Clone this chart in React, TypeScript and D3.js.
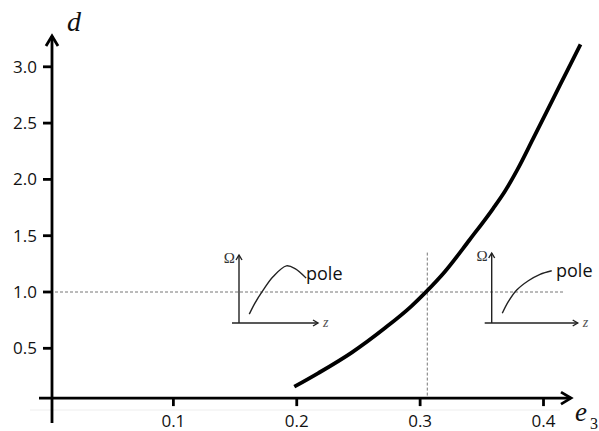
import React from 'react';
import * as d3 from 'd3';

// main curve
const curveE3 = [0.198, 0.2175, 0.2445, 0.2715, 0.293, 0.305, 0.320, 0.340, 0.359, 0.369, 0.3785, 0.3915, 0.408, 0.419, 0.430];
const curveD = [0.159, 0.280, 0.462, 0.680, 0.875, 1.003, 1.180, 1.462, 1.739, 1.899, 2.080, 2.360, 2.720, 2.960, 3.200];

const e3Ticks = [0.1, 0.2, 0.3, 0.4];
const dTicks = [0.5, 1.0, 1.5, 2.0, 2.5, 3.0];
const tickFmt = d3.format('.1f');

// marker lines
const refD = 1.0;
const refE3 = 0.305;
const refTop = 1.35;

// schematic insets, local 0..1 units
const leftInsetU = [0.13, 0.20, 0.31, 0.43, 0.60, 0.71, 0.85];
const leftInsetV = [0.13, 0.29, 0.49, 0.68, 0.84, 0.80, 0.66];
const rightInsetU = [0.123, 0.193, 0.291, 0.426, 0.562, 0.698];
const rightInsetV = [0.139, 0.304, 0.471, 0.604, 0.696, 0.747];

const W = 599;
const H = 431;

const x = d3.scaleLinear().domain([0, 0.4]).range([50, 543.5]);
const y = d3.scaleLinear().domain([0, 3]).range([404.6, 66.8]);
const axisY = y(0) - 6.5;

const sans = '"Open Sans", "Noto Sans", sans-serif';
const serif = '"Liberation Serif", "DejaVu Serif", serif';

const Inset = (props: { x0: number; y0: number; w: number; h: number; u: number[]; v: number[]; label: [number, number] }) => {
    const { x0, y0, w, h, u, v } = props;
    const sx = d3.scaleLinear().domain([0, 1]).range([x0, x0 + w]);
    const sy = d3.scaleLinear().domain([0, 1]).range([y0, y0 - h]);
    const pts = u.map((d, i) => [sx(d), sy(v[i])] as [number, number]);
    const line = d3.line().curve(d3.curveCatmullRom)(pts) || '';
    const c = '#222';
    return (
        <g>
            <line x1={x0} y1={y0} x2={x0} y2={y0 - h} stroke={c} strokeWidth={1.4} />
            <path d={`M${x0 - 3},${y0 - h + 5}L${x0},${y0 - h}L${x0 + 3},${y0 - h + 5}`} fill="none" stroke={c} strokeWidth={1.4} />
            <line x1={x0 - 7} y1={y0} x2={x0 + w} y2={y0} stroke={c} strokeWidth={1.4} />
            <path d={`M${x0 + w - 5},${y0 - 3}L${x0 + w},${y0}L${x0 + w - 5},${y0 + 3}`} fill="none" stroke={c} strokeWidth={1.4} />
            <path d={line} fill="none" stroke={c} strokeWidth={1.4} />
            <text x={x0 - 4} y={y0 - h + 8} textAnchor="end" fontFamily={serif} fontSize={15} fill="#333">Ω</text>
            <text x={x0 + w + 5} y={y0 + 4} fontFamily={serif} fontStyle="italic" fontSize={14} fill="#555">z</text>
            <text x={props.label[0]} y={props.label[1]} fontFamily={sans} fontSize={18} fill="#111">pole</text>
        </g>
    );
};

export default function App() {
    const pts = curveE3.map((e, i) => [x(e), y(curveD[i])] as [number, number]);
    const path = d3.line().curve(d3.curveMonotoneX)(pts) || '';
    const x0 = x(0);

    return (
        <svg width={W} height={H} style={{ position: 'absolute', left: 0, top: 0, background: '#fff' }}>
            {/* faint scan line under the axis */}
            <line x1={30} x2={560} y1={410} y2={410} stroke="#eee" strokeWidth={1} />

            {/* reference lines */}
            <line x1={x0} x2={565} y1={y(refD)} y2={y(refD)} stroke="#777" strokeWidth={1} strokeDasharray="3,2" />
            <line x1={x(refE3) + 1} x2={x(refE3) + 1} y1={y(refTop)} y2={axisY} stroke="#777" strokeWidth={1} strokeDasharray="3,2" />

            {/* y axis */}
            <line x1={x0 + 2} x2={x0 + 2} y1={423} y2={36} stroke="#000" strokeWidth={2.8} />
            <path d={`M${x0 - 4},${46}L${x0 + 2},${36}L${x0 + 8},${46}`} fill="none" stroke="#000" strokeWidth={2.8} />
            {dTicks.map(t => (
                <g key={t}>
                    <line x1={x0 - 7} x2={x0 + 2} y1={y(t)} y2={y(t)} stroke="#000" strokeWidth={2.8} />
                    <text x={37} y={y(t) + 6} textAnchor="end" fontFamily={sans} fontSize={17} fill="#111">{tickFmt(t)}</text>
                </g>
            ))}

            {/* x axis */}
            <line x1={39} x2={571} y1={axisY} y2={axisY} stroke="#000" strokeWidth={2.8} />
            <path d={`M${561},${axisY - 6}L${571},${axisY}L${561},${axisY + 6}`} fill="none" stroke="#000" strokeWidth={2.8} />
            {e3Ticks.map(t => (
                <g key={t}>
                    <line x1={x(t)} x2={x(t)} y1={axisY} y2={axisY + 8} stroke="#000" strokeWidth={2.8} />
                    <text x={x(t)} y={427} textAnchor="middle" fontFamily={sans} fontSize={17} fill="#111">{tickFmt(t)}</text>
                </g>
            ))}

            {/* axis titles */}
            <text x={67} y={31} fontFamily={serif} fontStyle="italic" fontSize={28} fill="#111">d</text>
            <text x={575} y={421} fontFamily={serif} fontStyle="italic" fontSize={27} fill="#111">e</text>
            <text x={590} y={429} fontFamily={serif} fontSize={16} fill="#111">3</text>

            {/* curve */}
            <path d={path} fill="none" stroke="#000" strokeWidth={3.8} strokeLinecap="butt" />

            <Inset x0={239} y0={323} w={79} h={68} u={leftInsetU} v={leftInsetV} label={[306, 280]} />
            <Inset x0={491.7} y0={323} w={86} h={70} u={rightInsetU} v={rightInsetV} label={[556, 277]} />
        </svg>
    );
}
